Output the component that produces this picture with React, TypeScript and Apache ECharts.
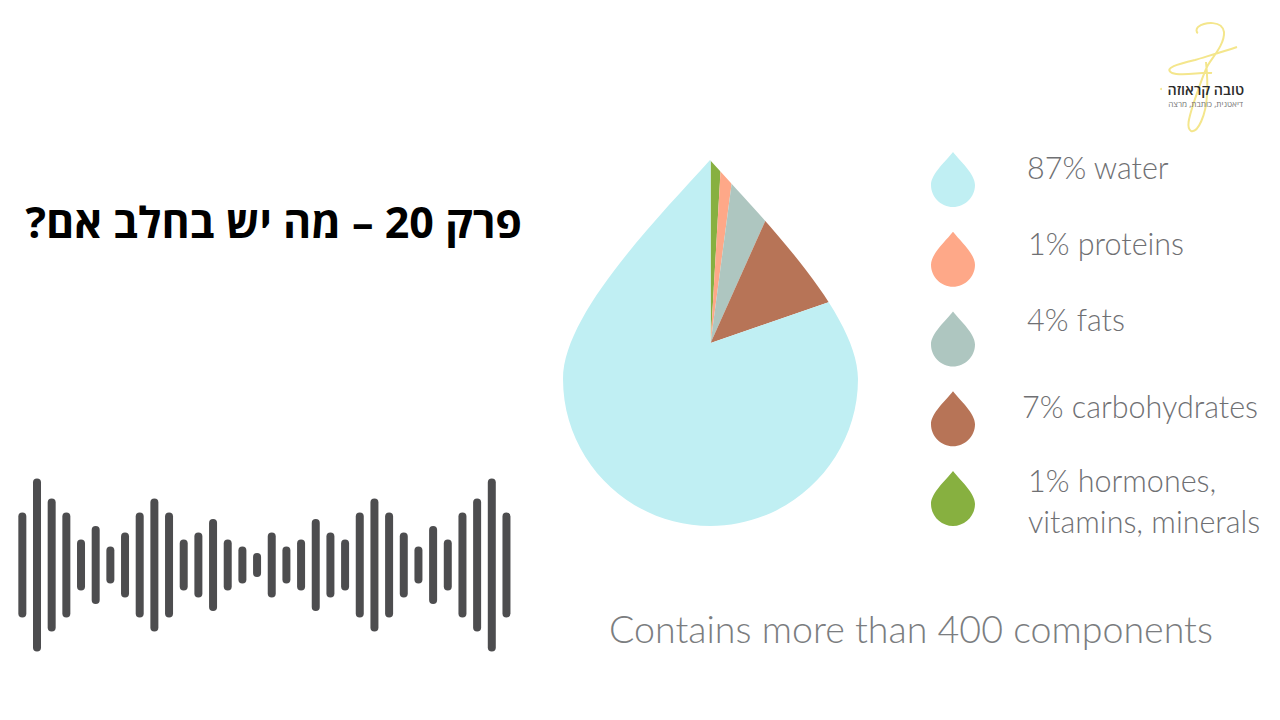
import React, { useEffect, useRef } from "react";
import * as echarts from "echarts";

// Labels as printed beside the drops
const legendLabels = ["87% water", "1% proteins", "4% fats", "7% carbohydrates", "1% hormones,\nvitamins, minerals"];
const legendNames = ["water", "proteins", "fats", "carbohydrates", "hormones"];
const legendTextX = [1027, 1028, 1027, 1022, 1028];
const legendTextY = [167, 243, 319, 406, 500];

// Slice shares as drawn in the picture (clockwise from the tip of the drop)
const sliceNames = ["hormones", "proteins", "fats", "carbohydrates", "water"];
const sliceShares = [0.92, 1.17, 4.61, 13.0, 80.3];
const sliceColors = ["#87b040", "#fea888", "#aec6c0", "#b77457", "#c0eff3"];

// Full height of each bar of the sound wave
const waveHeights = [105, 173, 133, 105, 51, 78, 37, 65, 105, 133, 105, 51, 65, 92, 51, 37, 24, 65, 37, 51, 92, 65, 51, 105, 133, 105, 65, 37, 78, 51, 105, 133, 173, 105];
const waveAxisMax = 180;

const titleText = "פרק 20 – מה יש בחלב אם?\u200f";
const footerText = "Contains more than 400 components";
const logoName = "טובה קראוזה";
const logoTagline = "דיאטנית, כותבת, מרצה\u200f";

const dropOutline =
  "M710 160 C766 222 858 315 858 379 C858 460 791 526 710.5 526 C629 526 563 460 563 379 C563 315 654 222 710 160 Z";
const maskPath = "M523 154 L523 530 L898 530 L898 154 Z " + dropOutline;
const legendIcon =
  "path://M22 0 C29 9 44 22 44 33 C44 45 34 55 22 55 C10 55 0 45 0 33 C0 22 15 9 22 0 Z";
const scribble =
  "M1198 27 C1205 22 1222 20 1224 32 C1225 45 1210 60 1207 67 C1203 75 1198 90 1193 105 C1189 118 1186 128 1191 131 C1198 133 1206 115 1207 95 C1208 82 1207 72 1206 62 " +
  "M1237 47 C1222 52 1208 56 1195 60 C1178 64 1163 68 1172 73 C1183 77 1203 71 1212 73 " +
  "M1198 27 C1196 29 1196 32 1198 33";

echarts.graphic.registerShape("dropMask", echarts.graphic.extendPath(maskPath, {}) as any);
echarts.graphic.registerShape("logoScribble", echarts.graphic.extendPath(scribble, {}) as any);

const latin = "Lato, 'Open Sans', sans-serif";
const hebrew = "'Open Sans', 'Noto Sans', 'DejaVu Sans', sans-serif";

export default function App() {
  const ref = useRef<HTMLDivElement>(null);
  useEffect(() => {
    const chart = echarts.init(ref.current!, undefined, { renderer: "svg" });
    chart.setOption({
      animation: false,
      backgroundColor: "#ffffff",
      legend: {
        orient: "vertical",
        left: 931,
        top: 152,
        padding: 0,
        itemWidth: 44,
        itemHeight: 55,
        itemGap: 24.75,
        selectedMode: false,
        icon: legendIcon,
        formatter: () => "",
        data: legendNames,
      },
      grid: { left: 15, width: 498.8, top: 475, height: 180, containLabel: false },
      xAxis: { type: "category", show: false, data: waveHeights.map((_, i) => String(i + 1)) },
      yAxis: { type: "value", show: false, min: 0, max: waveAxisMax },
      series: [
        {
          type: "pie",
          center: [710.6, 343],
          radius: [0, 186],
          startAngle: 90,
          clockwise: true,
          silent: true,
          z: 1,
          label: { show: false },
          labelLine: { show: false },
          data: sliceNames.map((name, i) => ({
            name,
            value: sliceShares[i],
            itemStyle: { color: sliceColors[i] },
          })),
        },
        {
          type: "bar",
          stack: "wave",
          barWidth: 8,
          silent: true,
          itemStyle: { color: "transparent" },
          data: waveHeights.map((h) => (waveAxisMax - h) / 2),
        },
        {
          type: "bar",
          stack: "wave",
          barWidth: 8,
          silent: true,
          itemStyle: { color: "#4d4d4f", borderRadius: 4 },
          data: waveHeights,
        },
      ],
      graphic: [
        { type: "dropMask", z: 50, silent: true, style: { fill: "#ffffff" } },
        { type: "logoScribble", z: 50, silent: true, style: { fill: "none", stroke: "#f4e68c", lineWidth: 2 } },
        { type: "circle", z: 50, silent: true, shape: { cx: 1161, cy: 89, r: 1 }, style: { fill: "#f4e68c" } },
        {
          type: "text", z: 60, x: 1244, y: 89.5,
          style: { text: logoName, font: `600 14.3px ${hebrew}`, fill: "#2b2b2b", textAlign: "right", textVerticalAlign: "middle" },
        },
        {
          type: "text", z: 60, x: 1243, y: 103.5,
          style: { text: logoTagline, font: `400 8.2px ${hebrew}`, fill: "#777777", textAlign: "right", textVerticalAlign: "middle" },
        },
        {
          type: "text", z: 60, x: 522, y: 221,
          style: { text: titleText, font: `700 43px ${hebrew}`, fill: "#000000", textAlign: "right", textVerticalAlign: "middle" },
        },
        ...legendLabels.map((t, i) => ({
          type: "text", z: 60, x: legendTextX[i], y: legendTextY[i],
          style: { text: t, font: `300 30.5px ${latin}`, lineHeight: 41, fill: "#6f7073", textAlign: "left", textVerticalAlign: "middle" },
        })),
        {
          type: "text", z: 60, x: 609, y: 628,
          style: { text: footerText, font: `300 37.6px ${latin}`, fill: "#7b7d80", textAlign: "left", textVerticalAlign: "middle" },
        },
      ],
    });
    return () => chart.dispose();
  }, []);
  return <div ref={ref} style={{ position: "absolute", left: 0, top: 0, width: 1280, height: 720 }} />;
}
